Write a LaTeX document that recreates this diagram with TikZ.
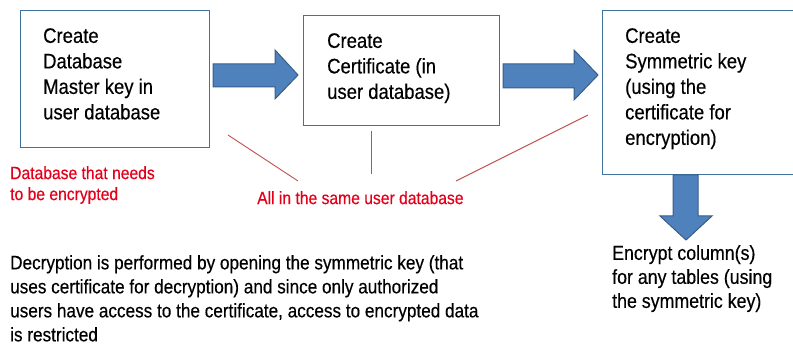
\documentclass[tikz,border=0pt]{standalone}
\usepackage{fontspec}
\setmainfont{Liberation Sans}[FakeStretch=0.88,FakeBold=0.35]
\begin{document}
\begin{tikzpicture}[x=1pt,y=-1pt,
  box/.style={draw=boxblue,line width=1.2pt,anchor=north west,inner sep=0pt},
  btxt/.style={anchor=north west,inner sep=0pt,align=left,font=\fontsize{21}{25.5}\selectfont},
  rtxt/.style={anchor=north west,inner sep=0pt,align=left,text=txtred,font=\fontsize{17.8}{21}\selectfont},
  bigarrow/.style={fill=arrowblue,draw=arrowedge,line width=1pt,line join=miter},
  redline/.style={draw=linered,line width=0.9pt}]
\definecolor{boxblue}{HTML}{41719C}
\definecolor{arrowblue}{HTML}{4F81BD}
\definecolor{arrowedge}{HTML}{385D8A}
\definecolor{txtred}{HTML}{E3001B}
\definecolor{linered}{HTML}{C0504D}
\useasboundingbox (0,0) rectangle (793,347);
\clip (0,0) rectangle (793,347);
% boxes
\node[box,minimum width=189pt,minimum height=137pt] (b1) at (20,10) {};
\node[box,minimum width=196pt,minimum height=110pt] (b2) at (303,15) {};
\node[box,minimum width=220pt,minimum height=164pt] (b3) at (602,10) {};
% box texts
\node[btxt] (t1) at (43,28) {Create\\Database\\Master key in\\user database};
\node[btxt] (t2) at (327,33) {Create\\Certificate (in\\user database)};
\node[btxt] (t3) at (625,28) {Create\\Symmetric key\\(using the\\certificate for\\encryption)};
% block arrows
\path[bigarrow] (213,64) -- (275,64) -- (275,50) -- (298,75) -- (275,99) -- (275,87) -- (213,87) -- cycle;
\path[bigarrow] (503,64) -- (574,64) -- (574,50) -- (598,75) -- (574,100) -- (574,88) -- (503,88) -- cycle;
\path[bigarrow] (673,175) -- (698,175) -- (698,216) -- (712,216) -- (686,240) -- (660,216) -- (673,216) -- cycle;
% red labels
\node[rtxt] (r1) at (10,166) {Database that needs\\to be encrypted};
\node[rtxt] (r2) at (257,191) {All in the same user database};
\coordinate (l1a) at (228,135);
\coordinate (l1b) at (298,181);
\coordinate (l2a) at (371,131);
\coordinate (l2b) at (371,174);
\coordinate (l3a) at (456,181);
\coordinate (l3b) at (588,115);
\draw[redline] (l1a) -- (l1b);
\draw[redline] (l2a) -- (l2b);
\draw[redline] (l3a) -- (l3b);
% bottom texts
\node[btxt,font=\fontsize{19.5}{24}\selectfont] (d) at (10,255) {Decryption is performed by opening the symmetric key (that\\uses certificate for decryption) and since only authorized\\users have access to the certificate, access to encrypted data\\is restricted};
\node[btxt,font=\fontsize{20.2}{24}\selectfont] (e) at (612,245) {Encrypt column(s)\\for any tables (using\\the symmetric key)};
\end{tikzpicture}
\end{document}
